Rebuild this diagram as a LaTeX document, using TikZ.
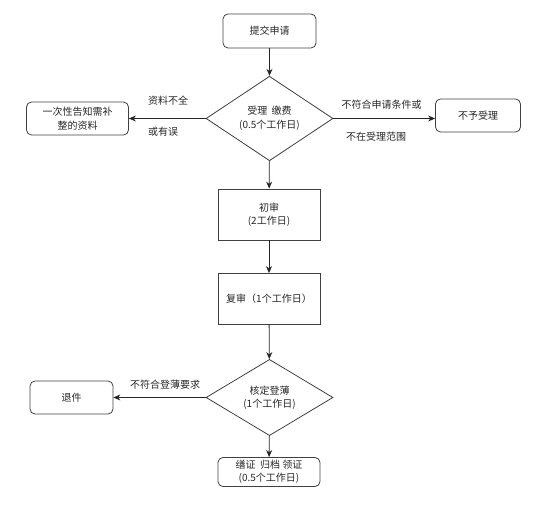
\documentclass[tikz,border=0pt]{standalone}
\usepackage{fontspec}
\setmainfont{Noto Sans CJK SC}
\usetikzlibrary{shapes.geometric,arrows.meta}
\begin{document}
\begin{tikzpicture}[x=1pt,y=-1pt,
  every node/.style={font=\fontsize{10}{13.5}\selectfont, text=black!85},
  rbox/.style={draw=black!75, line width=0.8pt, rounded corners=5pt, align=center, inner sep=0pt},
  sbox/.style={draw=black!75, line width=0.8pt, align=center, inner sep=0pt},
  dbox/.style={draw=black!75, line width=0.8pt, diamond, align=center, inner sep=0pt},
  lbl/.style={inner sep=0pt},
  arr/.style={draw=black!85, line width=0.8pt, -{Stealth[length=7pt,width=6pt]}}]
\useasboundingbox (0,0) rectangle (554,505);
\node[rbox, minimum width=93pt, minimum height=34pt] (submit) at (269.5,31) {提交申请};
\node[dbox, minimum width=127pt, minimum height=74pt] (accept) at (269.5,118.5) {受理\ \ 缴费\\(0.5个工作日)};
\node[rbox, minimum width=102pt, minimum height=33pt] (notice) at (77.5,118.5) {一次性告知需补\\整的资料};
\node[rbox, minimum width=85pt, minimum height=33pt] (reject) at (478,115.5) {不予受理};
\node[sbox, minimum width=102pt, minimum height=51pt] (first) at (269,214.5) {初审\\(2工作日)};
\node[sbox, minimum width=102pt, minimum height=51pt] (second) at (269,299) {复审（1个工作日）};
\node[dbox, minimum width=127pt, minimum height=73pt] (check) at (269.5,397.5) {核定登薄\\(1个工作日)};
\node[rbox, minimum width=83pt, minimum height=33pt] (back) at (71.5,397.5) {退件};
\node[rbox, minimum width=102pt, minimum height=29pt] (final) at (269,472) {缮证\ \ 归档\ 领证\\(0.5个工作日)};
\draw[arr] (submit) -- (accept);
\draw[arr] (accept) -- (first);
\draw[arr] (first) -- (second);
\draw[arr] (second) -- (check);
\draw[arr] (check) -- (final);
\draw[arr] (accept.west) -- (notice.east |- accept.west);
\draw[arr] (accept.east) -- (reject.west |- accept.east);
\draw[arr] (check.west) -- (back.east |- check.west);
\node[lbl] (l1) at (168,101) {资料不全};
\node[lbl] (l2) at (163,132) {或有误};
\node[lbl] (l3) at (381.5,105) {不符合申请条件或};
\node[lbl] (l4) at (376,137) {不在受理范围};
\node[lbl] (l5) at (165,385) {不符合登薄要求};
\end{tikzpicture}
\end{document}
